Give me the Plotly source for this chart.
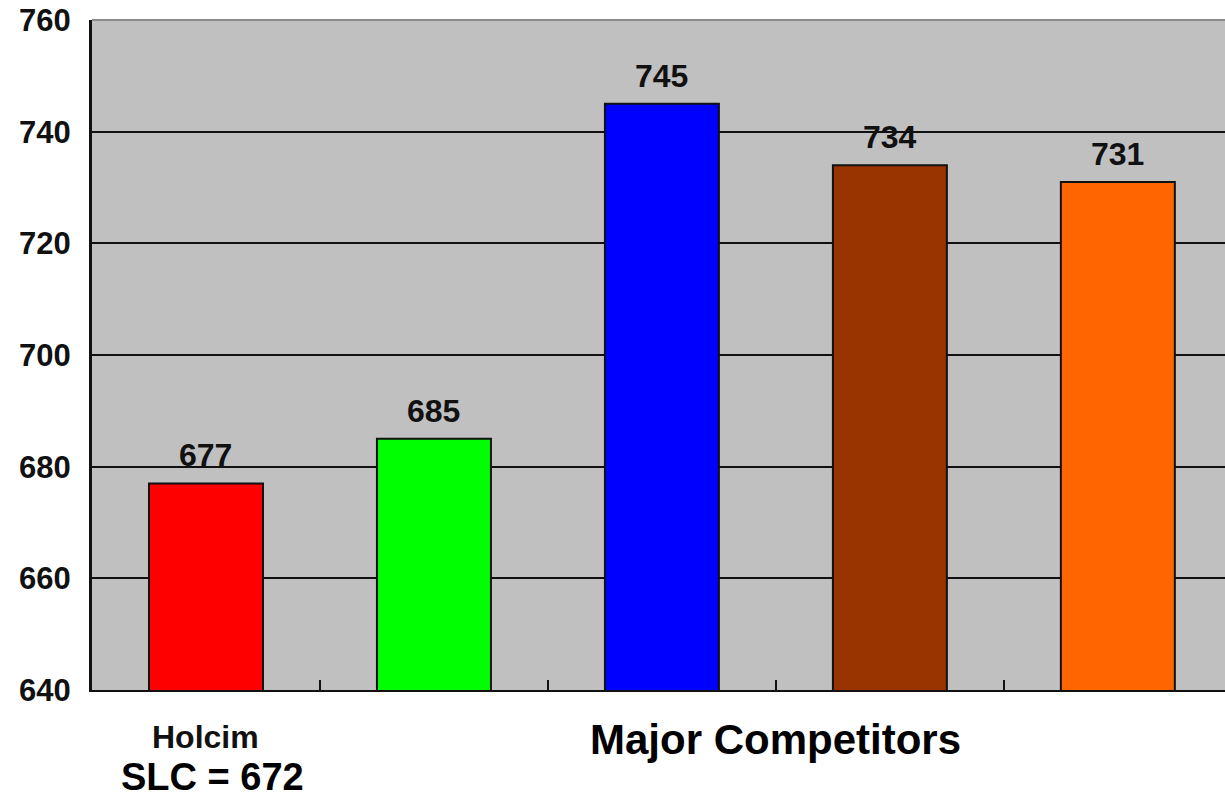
import plotly.graph_objects as go

# Data
companies = ["Holcim", "Competitor A", "Competitor B", "Competitor C", "Competitor D"]
values = [677, 685, 745, 734, 731]
bar_colors = ["#FF0000", "#00FF00", "#0000FF", "#993300", "#FF6600"]
y_ticks = [640, 660, 680, 700, 720, 740, 760]
holcim_label = "Holcim"
slc_label = "SLC = 672"
group_label = "Major Competitors"

FONT = "Arial, Liberation Sans, sans-serif"

x_pos = list(range(len(companies)))
boundaries = [i + 0.5 for i in x_pos[:-1]]

fig = go.Figure()
fig.add_trace(go.Bar(
    x=x_pos, y=values, width=0.5,
    marker=dict(color=bar_colors, line=dict(color="#111111", width=2)),
    hoverinfo="skip", showlegend=False,
))

# value labels above bars
for xi, v in zip(x_pos, values):
    fig.add_annotation(x=xi, y=v, xref="x", yref="y", text=f"<b>{v}</b>",
                       showarrow=False, yanchor="bottom", yshift=8,
                       font=dict(family=FONT, size=32, color="#111111"))

fig.add_annotation(x=0, y=-0.04, xref="x", yref="paper", text=f"<b>{holcim_label}</b>",
                   showarrow=False, yanchor="top",
                   font=dict(family=FONT, size=32, color="#111111"))
fig.add_annotation(x=0.03, y=-0.163, xref="x", yref="paper", text=f"<b>{slc_label}</b>",
                   showarrow=False, yanchor="bottom", borderpad=0,
                   font=dict(family=FONT, size=38, color="#000000"))
fig.add_annotation(x=2.5, y=-0.036, xref="x", yref="paper", text=f"<b>{group_label}</b>",
                   showarrow=False, yanchor="top",
                   font=dict(family=FONT, size=42, color="#000000"))

# top border of plot area
fig.add_shape(type="line", xref="paper", yref="paper", x0=0, x1=1, y0=1, y1=1,
              line=dict(color="#8a8a8a", width=2), layer="above")

fig.update_layout(
    width=1225, height=801,
    margin=dict(l=92, r=0, t=20, b=111),
    paper_bgcolor="white", plot_bgcolor="#C0C0C0",
    xaxis=dict(range=[-0.5, 4.47], showticklabels=False, tickvals=boundaries,
               ticks="inside", ticklen=10, tickwidth=2,
               tickcolor="#111111", showgrid=False, zeroline=False,
               showline=True, linecolor="#111111", linewidth=2),
    yaxis=dict(range=[640, 760], tickvals=y_ticks,
               ticktext=[f"<b>{t}</b>" for t in y_ticks],
               tickfont=dict(family=FONT, size=31, color="#111111"),
               ticks="", showgrid=True, gridcolor="#111111", gridwidth=2,
               zeroline=False, showline=True, linecolor="#111111", linewidth=3,
               ticklabelstandoff=12),
)

fig.write_html("out.html")
